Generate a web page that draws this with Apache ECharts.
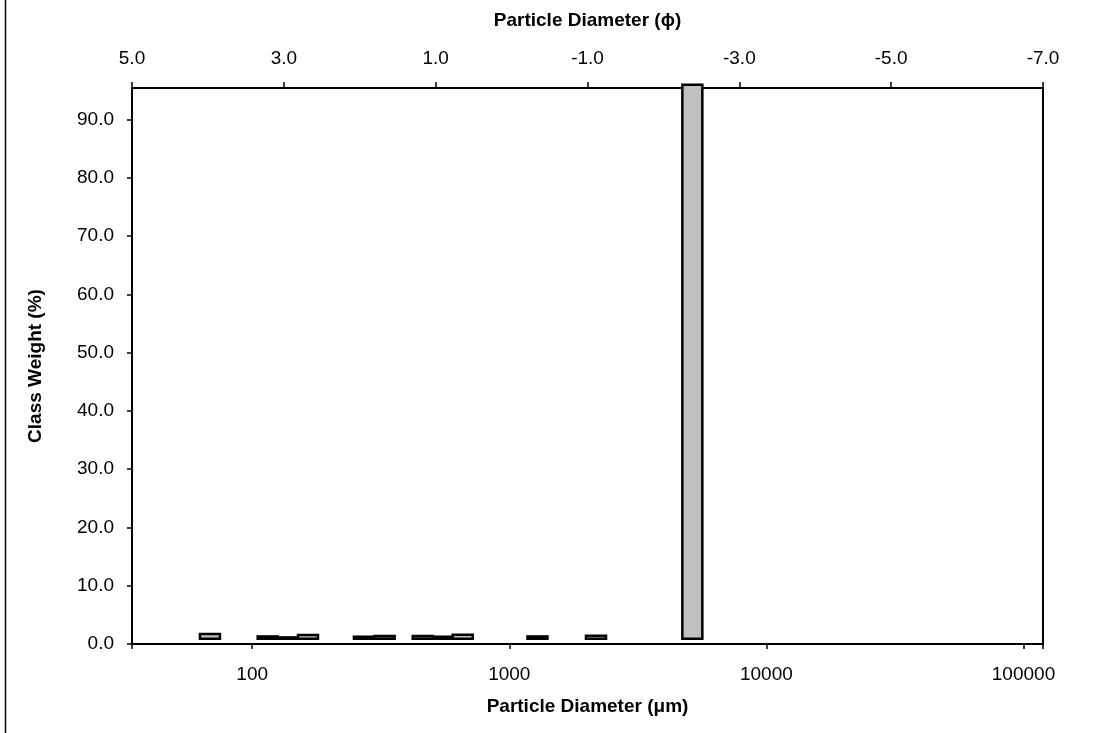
<!DOCTYPE html>
<html>
<head>
<meta charset="utf-8">
<script src="https://cdn.jsdelivr.net/npm/echarts@6/dist/echarts.min.js"></script>
<style>html,body{margin:0;padding:0;background:#fff;}#c{width:1110px;height:733px;}</style>
</head>
<body>
<div id="c"></div>
<script>
// Particle diameter (µm) of each class bar (bottom log axis)
const diameters = [68.5, 114.9, 137.5, 164.8, 272, 327.5, 460.6, 552, 659, 1287, 2174, 5152];
// Bar bottoms and tops (class weight %)
const barBase = [0.9, 0.9, 0.9, 0.9, 0.9, 0.9, 0.9, 0.9, 0.9, 0.9, 0.9, 0.9];
const barTop = [1.72, 1.30, 1.13, 1.54, 1.25, 1.37, 1.37, 1.25, 1.6, 1.30, 1.42, 95.96];
// Axis tick values
const yTicks = [0, 10, 20, 30, 40, 50, 60, 70, 80, 90];
const umTicks = [100, 1000, 10000, 100000];
const phiTicks = [5, 3, 1, -1, -3, -5, -7];

const FONT = "'Liberation Sans', Arial, sans-serif";
const FS = 19;
const chart = echarts.init(document.getElementById('c'));
const data = diameters.map((d, i) => [d, barBase[i], barTop[i]]);

chart.setOption({
  animation: false,
  backgroundColor: '#fff',
  textStyle: { fontFamily: FONT, color: '#000' },
  graphic: [{
    type: 'rect', left: 3, top: -10,
    shape: { width: 1200, height: 760 },
    style: { fill: 'none', stroke: '#000', lineWidth: 1.5 }, silent: true
  }],
  grid: { left: 132, right: 67, top: 88, bottom: 89, containLabel: false },
  xAxis: [{
    type: 'log', logBase: 10, position: 'bottom',
    min: 34.08, max: 119080,
    name: 'Particle Diameter (μm)', nameLocation: 'middle', nameGap: 53,
    nameTextStyle: { fontFamily: FONT, fontSize: FS, fontWeight: 'bold', color: '#000' },
    axisLine: { show: true, onZero: false, lineStyle: { color: '#000', width: 2 } },
    axisTick: { show: true, length: 5, lineStyle: { color: '#000', width: 1.5 } },
    axisLabel: {
      margin: 21, fontFamily: FONT, fontSize: FS, color: '#000',
      formatter: v => {
        const m = umTicks.find(t => Math.abs(t - v) / t < 1e-6);
        return m ? String(m) : '';
      }
    },
    splitLine: { show: false }
  }, {
    type: 'value', position: 'top', inverse: true,
    min: phiTicks[phiTicks.length - 1], max: phiTicks[0], interval: 2,
    name: 'Particle Diameter (ϕ)', nameLocation: 'middle', nameGap: 58,
    nameTextStyle: { fontFamily: FONT, fontSize: FS, fontWeight: 'bold', color: '#000' },
    axisLine: { show: true, onZero: false, lineStyle: { color: '#000', width: 2 } },
    axisTick: { show: true, length: 6, lineStyle: { color: '#000', width: 1.5 } },
    axisLabel: { margin: 20, fontFamily: FONT, fontSize: FS, color: '#000', formatter: v => v.toFixed(1) },
    splitLine: { show: false }
  }],
  yAxis: [{
    type: 'value', position: 'left', min: 0, max: 95.4,
    name: 'Class Weight (%)', nameLocation: 'middle', nameGap: 87, nameRotate: 90,
    nameTextStyle: { fontFamily: FONT, fontSize: FS, fontWeight: 'bold', color: '#000' },
    axisLine: { show: true, onZero: false, lineStyle: { color: '#000', width: 2 } },
    axisTick: { show: true, length: 5, customValues: yTicks, lineStyle: { color: '#000', width: 1.5 } },
    axisLabel: { margin: 18, fontFamily: FONT, fontSize: FS, color: '#000', customValues: yTicks, formatter: v => v.toFixed(1) },
    splitLine: { show: false }
  }, {
    type: 'value', position: 'right', min: 0, max: 95.4,
    axisLine: { show: true, onZero: false, lineStyle: { color: '#000', width: 2 } },
    axisTick: { show: false }, axisLabel: { show: false }, splitLine: { show: false }
  }],
  series: [{
    type: 'custom',
    xAxisIndex: 0, yAxisIndex: 0,
    clip: false,
    data: data,
    encode: { x: 0, y: [1, 2] },
    renderItem: (params, api) => {
      const x = api.value(0);
      const p0 = api.coord([x, api.value(1)]);
      const p1 = api.coord([x, api.value(2)]);
      const w = 20;
      return {
        type: 'rect',
        shape: { x: p0[0] - w / 2, y: p1[1], width: w, height: p0[1] - p1[1] },
        style: { fill: '#c0c0c0', stroke: '#000', lineWidth: 2.5 }
      };
    }
  }]
});
</script>
</body>
</html>
